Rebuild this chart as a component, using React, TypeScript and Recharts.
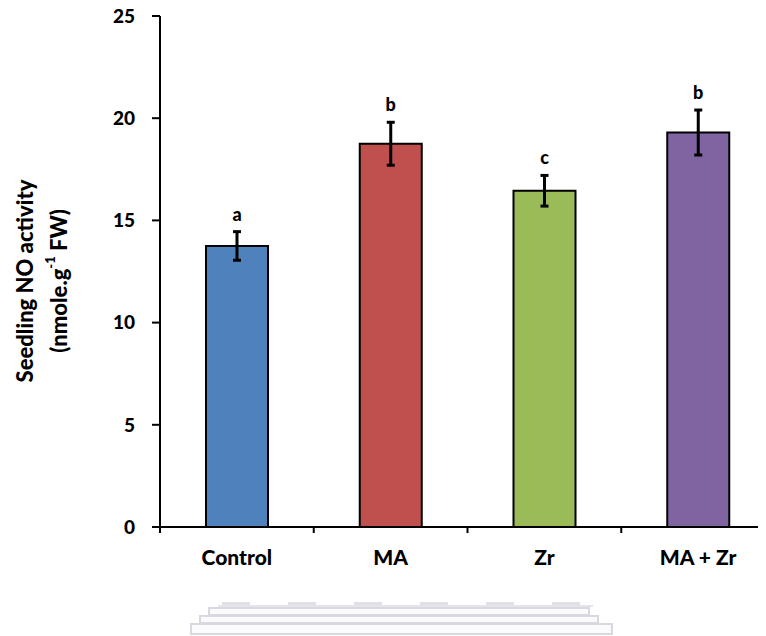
import { BarChart, Bar, XAxis, YAxis, ErrorBar, Cell, LabelList, Label } from "recharts"

// Seedling NO activity per treatment
const treatments = ["Control", "MA", "Zr", "MA + Zr"]
const noActivity = [13.75, 18.75, 16.45, 19.3]
const stdErr = [0.7, 1.05, 0.75, 1.1]
const letters = ["a", "b", "c", "b"]
const barColors = ["#4F81BD", "#C0504D", "#9BBB59", "#8064A2"]
const yTicks = [0, 5, 10, 15, 20, 25]

const FONT = "Lato, 'Open Sans', sans-serif"
const CHART_W = 780
const CHART_H = 617
const MARGIN = { top: 16, right: 13, left: 0, bottom: 30 }
const Y_AXIS_W = 152
const X_TICK_MARGIN = 23
const BAND = (CHART_W - MARGIN.left - MARGIN.right - Y_AXIS_W) / treatments.length

const data = treatments.map((name, i) => ({
  name,
  value: noActivity[i],
  err: stdErr[i],
  letter: letters[i],
}))

const CategoryTick = ({ x, y, payload, index }: any) => {
  const axisY = y - X_TICK_MARGIN
  const left = x - BAND / 2
  return (
    <g>
      {/* Excel style tick marks sit between categories */}
      <line x1={left} y1={axisY} x2={left} y2={axisY + 6} stroke="#000" strokeWidth={2} />
      {index === treatments.length - 1 && (
        <line x1={x + BAND / 2} y1={axisY} x2={x + BAND / 2} y2={axisY + 6} stroke="#000" strokeWidth={2} />
      )}
      <text x={x} y={y} dy="0.71em" textAnchor="middle" fontFamily={FONT} fontWeight={900} fontSize={21} fill="#000">
        {payload.value}
      </text>
    </g>
  )
}

const LetterLabel = ({ x, y, width, height, value, index }: any) => {
  const pxPerUnit = height / noActivity[index]
  const errTop = y - stdErr[index] * pxPerUnit
  return (
    <text x={x + width / 2} y={errTop - 11} textAnchor="middle" fontFamily={FONT} fontWeight={900} fontSize={18} fill="#000">
      {value}
    </text>
  )
}

const YTitle = () => {
  const cy = 281
  return (
    <g fontFamily={FONT} fontWeight={900} fontSize={22} fill="#000">
      <text x={16} y={cy} textAnchor="middle" dominantBaseline="central" transform={`rotate(-90 16 ${cy})`}>
        Seedling NO activity
      </text>
      <text x={50} y={cy} textAnchor="middle" dominantBaseline="central" transform={`rotate(-90 50 ${cy})`}>
        (nmole.g<tspan dy={-8} fontSize={13}>-1</tspan>
        <tspan dy={8}> FW)</tspan>
      </text>
    </g>
  )
}

export default function App() {
  return (
    <div style={{ position: "relative", width: 758, height: 636, marginTop: -8, overflow: "hidden", background: "#fff" }}>
      <BarChart width={CHART_W} height={CHART_H} data={data} margin={MARGIN}>
        <XAxis
          dataKey="name"
          axisLine={{ stroke: "#000", strokeWidth: 2 }}
          tickLine={false}
          tickSize={0}
          tickMargin={X_TICK_MARGIN}
          tick={<CategoryTick />}
          interval={0}
          height={60}
        />
        <YAxis
          width={Y_AXIS_W}
          domain={[0, 25]}
          ticks={yTicks}
          axisLine={{ stroke: "#000", strokeWidth: 2 }}
          tickLine={{ stroke: "#000", strokeWidth: 2 }}
          tickSize={8}
          tickMargin={17}
          tick={{ fontFamily: FONT, fontWeight: 900, fontSize: 19, fill: "#000" }}
        >
          <Label content={<YTitle />} />
        </YAxis>
        <Bar dataKey="value" barSize={62} stroke="#000" strokeWidth={2} isAnimationActive={false}>
          {data.map((d, i) => (
            <Cell key={d.name} fill={barColors[i]} />
          ))}
          <ErrorBar dataKey="err" width={4} stroke="#000" strokeWidth={3} direction="y" />
          <LabelList dataKey="letter" content={<LetterLabel />} />
        </Bar>
      </BarChart>
      {/* faint watermark under the chart */}
      <svg style={{ position: "absolute", left: 0, top: 0, pointerEvents: "none" }} width={758} height={636}>
        <line x1={210} y1={606} x2={585} y2={606} stroke="#dcdce2" strokeWidth={1.5} />
        <line x1={214} y1={603.5} x2={578} y2={603.5} stroke="#e0e0e6" strokeWidth={3} strokeDasharray="28 38" />
        <rect x={201} y={608} width={380} height={7} fill="#fbfbfd" stroke="#d8d8e0" strokeWidth={2} />
        <rect x={192} y={616} width={398} height={7} fill="#fbfbfd" stroke="#d8d8e0" strokeWidth={2} />
        <rect x={183} y={624} width={421} height={10} fill="#fbfbfd" stroke="#d8d8e0" strokeWidth={2} />
      </svg>
    </div>
  )
}
